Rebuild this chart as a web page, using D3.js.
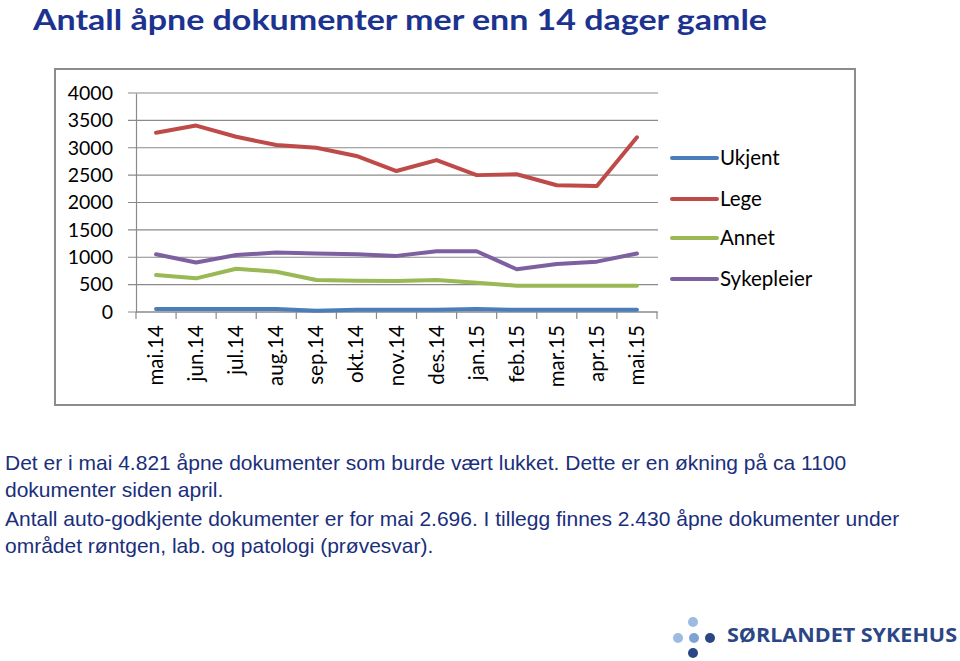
<!DOCTYPE html>
<html>
<head>
<meta charset="utf-8">
<script src="https://cdn.jsdelivr.net/npm/d3@7"></script>
<style>
    body { margin: 0; background: #fff; }
    svg { display: block; }
</style>
</head>
<body>
<svg id="slide" width="960" height="661"></svg>
<script>
'use strict';

// Data
const months = ['mai.14', 'jun.14', 'jul.14', 'aug.14', 'sep.14', 'okt.14', 'nov.14',
    'des.14', 'jan.15', 'feb.15', 'mar.15', 'apr.15', 'mai.15'];
const ukjent = [55, 55, 55, 55, 25, 40, 40, 40, 55, 40, 40, 40, 40];
const lege = [3275, 3405, 3200, 3050, 3000, 2850, 2575, 2775, 2500, 2515, 2315, 2300, 3190];
const annet = [675, 615, 790, 735, 585, 570, 565, 585, 535, 480, 480, 480, 480];
const sykepleier = [1055, 905, 1040, 1085, 1070, 1055, 1025, 1110, 1110, 780, 875, 920, 1070];
const yTicks = [0, 500, 1000, 1500, 2000, 2500, 3000, 3500, 4000];

const seriesNames = ['Ukjent', 'Lege', 'Annet', 'Sykepleier'];
const seriesColors = ['#4a7ebb', '#be4b48', '#98b954', '#7d60a0'];

const bodyLines = [
    'Det er i mai 4.821 åpne dokumenter som burde vært lukket. Dette er en økning på ca 1100',
    'dokumenter siden april.',
    'Antall auto-godkjente dokumenter er for mai 2.696. I tillegg finnes 2.430 åpne dokumenter under',
    'området røntgen, lab. og patologi (prøvesvar).'
];

(function () {

    const svg = d3.select('#slide');
    const series = [ukjent, lege, annet, sykepleier];

    // Title
    svg.append('text')
        .attr('x', 33)
        .attr('y', 30)
        .attr('font-family', 'Lato, "Open Sans", sans-serif')
        .attr('font-weight', 'bold')
        .attr('font-size', 29)
        .attr('fill', '#1c3390')
        .attr('textLength', 734)
        .attr('lengthAdjust', 'spacingAndGlyphs')
        .text('Antall åpne dokumenter mer enn 14 dager gamle');

    // Chart frame
    svg.append('rect')
        .attr('x', 55)
        .attr('y', 69)
        .attr('width', 800)
        .attr('height', 336)
        .attr('fill', '#fff')
        .attr('stroke', '#8c8c8c')
        .attr('stroke-width', 2);

    // Plot area
    const plot = {'left': 136, 'right': 657, 'top': 93, 'bottom': 312};

    const scX = d3.scaleBand()
        .domain(months)
        .range([plot.left, plot.right]);

    const scY = d3.scaleLinear()
        .domain([0, 4000])
        .range([plot.bottom, plot.top]);

    const font = 'Lato, "Open Sans", sans-serif';

    // Grid lines
    svg.append('g')
        .selectAll('line')
        .data(yTicks)
        .enter()
        .append('line')
            .attr('x1', plot.left - 8)
            .attr('x2', plot.right + 1)
            .attr('y1', (d) => scY(d))
            .attr('y2', (d) => scY(d))
            .attr('stroke', '#8a8a8a')
            .attr('stroke-width', 1.2);

    // Y axis
    const yAxis = svg.append('g')
        .attr('transform', `translate(${plot.left}, 0)`)
        .call(d3.axisLeft(scY).tickValues(yTicks).tickFormat(d3.format('d')).tickSize(0).tickPadding(23));
    yAxis.select('.domain')
        .attr('stroke', '#8a8a8a')
        .attr('stroke-width', 1.2);
    yAxis.selectAll('text')
        .attr('font-family', font)
        .attr('font-size', 19.5)
        .attr('fill', '#000');

    // X axis
    const xAxis = svg.append('g')
        .attr('transform', `translate(0, ${plot.bottom})`)
        .call(d3.axisBottom(scX).tickSize(0).tickFormat(''));
    xAxis.select('.domain').remove();

    // X tick marks on band edges
    const edges = months.map((m) => scX(m)).concat([plot.right]);
    svg.append('g')
        .selectAll('line')
        .data(edges)
        .enter()
        .append('line')
            .attr('x1', (d) => d)
            .attr('x2', (d) => d)
            .attr('y1', plot.bottom)
            .attr('y2', plot.bottom + 7)
            .attr('stroke', '#8a8a8a')
            .attr('stroke-width', 1.2);
    svg.append('line')
        .attr('x1', plot.left)
        .attr('x2', plot.right)
        .attr('y1', plot.bottom)
        .attr('y2', plot.bottom)
        .attr('stroke', '#8a8a8a')
        .attr('stroke-width', 1.2);

    // X labels, rotated
    svg.append('g')
        .selectAll('text')
        .data(months)
        .enter()
        .append('text')
            .attr('transform', (d) => `translate(${scX(d) + scX.bandwidth() / 2 + 7}, ${plot.bottom + 13}) rotate(-90)`)
            .attr('text-anchor', 'end')
            .attr('font-family', font)
            .attr('font-size', 20.5)
            .attr('fill', '#000')
            .text((d) => d);

    // Lines
    const line = d3.line()
        .x((d, i) => scX(months[i]) + scX.bandwidth() / 2)
        .y((d) => scY(d));

    svg.append('g')
        .selectAll('path')
        .data(series)
        .enter()
        .append('path')
            .attr('d', line)
            .attr('fill', 'none')
            .attr('stroke', (d, i) => seriesColors[i])
            .attr('stroke-width', 4)
            .attr('stroke-linejoin', 'round')
            .attr('stroke-linecap', 'round');

    // Legend
    const legendY = [158, 199, 238, 279];
    const legend = svg.append('g')
        .selectAll('g')
        .data(seriesNames)
        .enter()
        .append('g')
            .attr('transform', (d, i) => `translate(672, ${legendY[i]})`);
    legend.append('line')
        .attr('x1', 0)
        .attr('x2', 45)
        .attr('stroke', (d, i) => seriesColors[i])
        .attr('stroke-width', 4)
        .attr('stroke-linecap', 'round');
    legend.append('text')
        .attr('x', 48)
        .attr('y', 7)
        .attr('font-family', font)
        .attr('font-size', 20.5)
        .attr('fill', '#000')
        .text((d) => d);

    // Body text
    const bodyY = [470, 497, 526, 553];
    svg.append('g')
        .selectAll('text')
        .data(bodyLines)
        .enter()
        .append('text')
            .attr('x', 5)
            .attr('y', (d, i) => bodyY[i])
            .attr('font-family', '"Liberation Sans", Arial, sans-serif')
            .attr('font-size', 21)
            .attr('fill', '#1a2f7c')
            .text((d) => d);

    // Logo
    const dots = [
        {'cx': 693, 'cy': 622, 'c': '#9dbbe0'},
        {'cx': 678, 'cy': 638, 'c': '#9dbbe0'},
        {'cx': 694, 'cy': 638, 'c': '#7ea3d2'},
        {'cx': 710, 'cy': 638, 'c': '#2b4685'},
        {'cx': 693, 'cy': 653, 'c': '#2b4685'}
    ];
    svg.append('g')
        .selectAll('circle')
        .data(dots)
        .enter()
        .append('circle')
            .attr('cx', (d) => d.cx)
            .attr('cy', (d) => d.cy)
            .attr('r', 5)
            .attr('fill', (d) => d.c);

    svg.append('text')
        .attr('x', 727)
        .attr('y', 642)
        .attr('font-family', '"Open Sans", Lato, sans-serif')
        .attr('font-weight', 'bold')
        .attr('font-size', 19)
        .attr('fill', '#2b4685')
        .attr('textLength', 230)
        .attr('lengthAdjust', 'spacingAndGlyphs')
        .text('SØRLANDET SYKEHUS');

})();
</script>
</body>
</html>
